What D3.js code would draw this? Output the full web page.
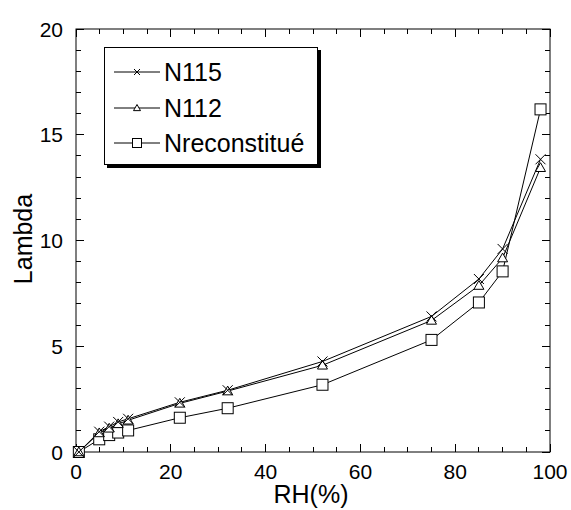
<!DOCTYPE html>
<html><head><meta charset="utf-8">
<script src="https://cdn.jsdelivr.net/npm/d3@7"></script>
<style>body{margin:0;background:#fff}svg{display:block}text{font-family:"Liberation Sans",Arial,sans-serif;fill:#000}</style>
</head><body><svg id="c" width="571" height="510"></svg>
<script>
const rh = [0.6, 4.9, 7.0, 8.9, 11.0, 21.9, 32.0, 52.0, 75.0, 85.0, 90.0, 98.0];
const n115 = [0.0, 0.96, 1.2, 1.42, 1.57, 2.35, 2.92, 4.28, 6.41, 8.18, 9.6, 13.84];
const n112 = [0.0, 0.9, 1.12, 1.33, 1.5, 2.3, 2.88, 4.1, 6.22, 7.87, 9.17, 13.44];
const nrec = [0.0, 0.6, 0.8, 0.92, 1.02, 1.62, 2.07, 3.18, 5.3, 7.07, 8.54, 16.2];
const seriesNames = ["N115", "N112", "Nreconstitué"];
const xTicks = [0, 20, 40, 60, 80, 100];
const yTicks = [0, 5, 10, 15, 20];

const svg = d3.select("#c");
const L = 76, R = 550, T = 29, B = 452;
const x = d3.scaleLinear().domain([0, 100]).range([L, R]);
const y = d3.scaleLinear().domain([0, 20]).range([B, T]);

// frame
svg.append("rect").attr("x", L).attr("y", T).attr("width", R - L).attr("height", B - T)
  .attr("fill", "none").attr("stroke", "#000").attr("stroke-width", 1);

const xMinor = d3.range(0, 101, 5).filter(v => v % 20 !== 0);
const yMinor = d3.range(0, 21, 1).filter(v => v % 5 !== 0);
const tg = svg.append("g").attr("stroke", "#000").attr("stroke-width", 1).attr("shape-rendering", "crispEdges");
xTicks.forEach(v => {
  tg.append("line").attr("x1", x(v)).attr("x2", x(v)).attr("y1", B).attr("y2", B - 8);
  tg.append("line").attr("x1", x(v)).attr("x2", x(v)).attr("y1", T).attr("y2", T + 8);
});
xMinor.forEach(v => {
  tg.append("line").attr("x1", x(v)).attr("x2", x(v)).attr("y1", B).attr("y2", B - 5);
  tg.append("line").attr("x1", x(v)).attr("x2", x(v)).attr("y1", T).attr("y2", T + 5);
});
yTicks.forEach(v => {
  tg.append("line").attr("y1", y(v)).attr("y2", y(v)).attr("x1", L).attr("x2", L + 8);
  tg.append("line").attr("y1", y(v)).attr("y2", y(v)).attr("x1", R).attr("x2", R - 8);
});
yMinor.forEach(v => {
  tg.append("line").attr("y1", y(v)).attr("y2", y(v)).attr("x1", L).attr("x2", L + 5);
  tg.append("line").attr("y1", y(v)).attr("y2", y(v)).attr("x1", R).attr("x2", R - 5);
});

// tick labels
xTicks.forEach(v => svg.append("text").attr("x", x(v)).attr("y", 479).attr("text-anchor", "middle")
  .attr("font-size", 21).text(v));
yTicks.forEach(v => svg.append("text").attr("x", 63).attr("y", y(v)).attr("dy", "0.36em").attr("text-anchor", "end")
  .attr("font-size", 21).text(v));

svg.append("text").attr("x", 311).attr("y", 503).attr("text-anchor", "middle").attr("font-size", 25).text("RH(%)");
svg.append("text").attr("transform", "translate(32,239) rotate(-90)").attr("text-anchor", "middle").attr("font-size", 25).text("Lambda");

// markers
function marker(g, type, cx, cy, s) {
  if (type === "x") {
    g.append("path").attr("d", `M${cx - s},${cy - s}L${cx + s},${cy + s}M${cx - s},${cy + s}L${cx + s},${cy - s}`)
      .attr("stroke", "#000").attr("fill", "none");
  } else if (type === "tri") {
    g.append("path").attr("d", `M${cx},${cy - s}L${cx + s},${cy + s * 0.75}L${cx - s},${cy + s * 0.75}Z`)
      .attr("stroke", "#000").attr("fill", "#fff");
  } else {
    g.append("rect").attr("x", cx - s).attr("y", cy - s).attr("width", 2 * s).attr("height", 2 * s)
      .attr("stroke", "#000").attr("fill", "#fff");
  }
}

const series = [
  {name: seriesNames[0], vals: n115, type: "x", s: 5},
  {name: seriesNames[1], vals: n112, type: "tri", s: 5},
  {name: seriesNames[2], vals: nrec, type: "sq", s: 5.5}
];
const line = d3.line().x(d => x(d[0])).y(d => y(d[1]));
const plot = svg.append("g");
// lines first, then markers, draw in order rec, 112, 115
[2, 1, 0].forEach(i => {
  const sr = series[i];
  const pts = rh.map((r, j) => [r, sr.vals[j]]);
  plot.append("path").attr("d", line(pts)).attr("fill", "none").attr("stroke", "#000").attr("stroke-width", 1);
});
[2, 1, 0].forEach(i => {
  const sr = series[i];
  const mg = plot.append("g");
  rh.forEach((r, j) => marker(mg, sr.type, x(r), y(sr.vals[j]), sr.s));
});

// legend
const lg = svg.append("g");
lg.append("rect").attr("x", 107).attr("y", 50).attr("width", 214).attr("height", 118).attr("fill", "#000");
lg.append("rect").attr("x", 104.5).attr("y", 47.5).attr("width", 213).attr("height", 117).attr("fill", "#fff").attr("stroke", "#000");
const ly = [72, 108, 143];
const lsz = [3, 3.5, 4.5];
series.forEach((sr, i) => {
  lg.append("line").attr("x1", 114).attr("x2", 160).attr("y1", ly[i]).attr("y2", ly[i]).attr("stroke", "#000");
  marker(lg, sr.type, 137, ly[i], lsz[i]);
  lg.append("text").attr("x", 164).attr("y", ly[i]).attr("dy", "0.36em").attr("font-size", 25).text(sr.name);
});
</script></body></html>
